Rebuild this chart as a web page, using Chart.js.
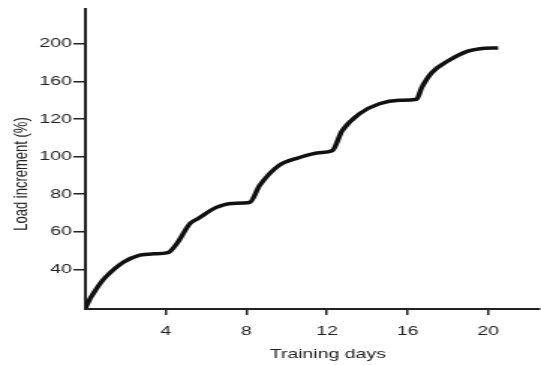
<!DOCTYPE html>
<html>
<head>
<meta charset="utf-8">
<script src="https://cdn.jsdelivr.net/npm/chart.js@4"></script>
<style>
  html, body { margin: 0; padding: 0; background: #fff; overflow: hidden; }
  /* the reference is stretched sideways, so the canvas is drawn narrow and widened */
  #wrap { width: 361px; height: 365px; transform: scaleX(1.4986); transform-origin: 0 0; }
</style>
</head>
<body>
<div id="wrap"><canvas id="chart"></canvas></div>
<script>
// training day vs load increment
const days = [0, 0.25, 0.5, 0.75, 1.0, 1.9, 2.7, 3.4, 4.1, 4.55, 5.2, 5.6, 6.5, 7.3, 8.15, 8.65, 9.6, 10.6, 11.6, 12.25, 12.75, 13.6, 14.6, 15.6, 16.45, 16.7, 17.2, 18.0, 19.0, 19.6, 20.5];
const load = [19.5, 24.8, 29.0, 32.8, 35.9, 43.9, 47.6, 48.3, 48.9, 53.9, 64.5, 67.1, 73.0, 75.1, 75.6, 84.6, 95.2, 99.4, 102.1, 103.1, 113.7, 122.7, 128.1, 129.9, 130.5, 136.6, 144.6, 150.8, 156.1, 157.4, 157.8];

const xTickValues = [4, 8, 12, 16, 20];
const yTickValues = [40, 60, 80, 100, 120, 140, 160];
const yTickLabels = ['40', '60', '80', '100', '120', '160', '200'];

const xTitle = 'Training days';
const yTitle = 'Load increment (%)';

const FONT = '"Liberation Sans", Arial, Helvetica, sans-serif';
const INK = '#222';

const axisTitles = {
  id: 'axisTitles',
  afterDraw(chart) {
    const ctx = chart.ctx;
    ctx.save();
    ctx.fillStyle = INK;
    ctx.font = `13px ${FONT}`;
    ctx.textAlign = 'center';
    ctx.textBaseline = 'alphabetic';
    ctx.fillText(xTitle, 218.7, 358);
    ctx.translate(17.5, 174);
    ctx.rotate(-Math.PI / 2);
    ctx.fillText(yTitle, 0, 0);
    ctx.restore();
  }
};

new Chart(document.getElementById('chart').getContext('2d'), {
  type: 'line',
  data: {
    datasets: [{
      data: days.map((d, i) => ({ x: d, y: load[i] })),
      borderColor: '#111',
      borderWidth: 3.5,
      pointRadius: 0,
      fill: false,
      cubicInterpolationMode: 'monotone'
    }]
  },
  options: {
    responsive: true, maintainAspectRatio: false,
    animation: false,
    layout: { padding: { top: 8, left: 0, right: 0, bottom: 0 } },
    plugins: { legend: { display: false }, tooltip: { enabled: false } },
    scales: {
      x: {
        type: 'linear', min: 0, max: 22.5,
        grid: { drawOnChartArea: false, tickLength: 6, color: INK, lineWidth: 1.5 },
        border: { color: INK, width: 2 },
        ticks: { color: INK, font: { size: 13, family: FONT }, padding: 9 },
        afterBuildTicks: s => { s.ticks = xTickValues.map(v => ({ value: v })); },
        afterFit: s => { s.height = 56; }
      },
      y: {
        min: 18.95, max: 178.6,
        grid: { drawOnChartArea: false, tickLength: 8, color: INK, lineWidth: 1.5 },
        border: { color: INK, width: 2 },
        ticks: { color: INK, font: { size: 13, family: FONT }, padding: 1, callback: (v, i) => yTickLabels[i] },
        afterBuildTicks: s => { s.ticks = yTickValues.map(v => ({ value: v })); },
        afterFit: s => { s.width = 57; }
      }
    }
  },
  plugins: [axisTitles]
});
</script>
</body>
</html>
